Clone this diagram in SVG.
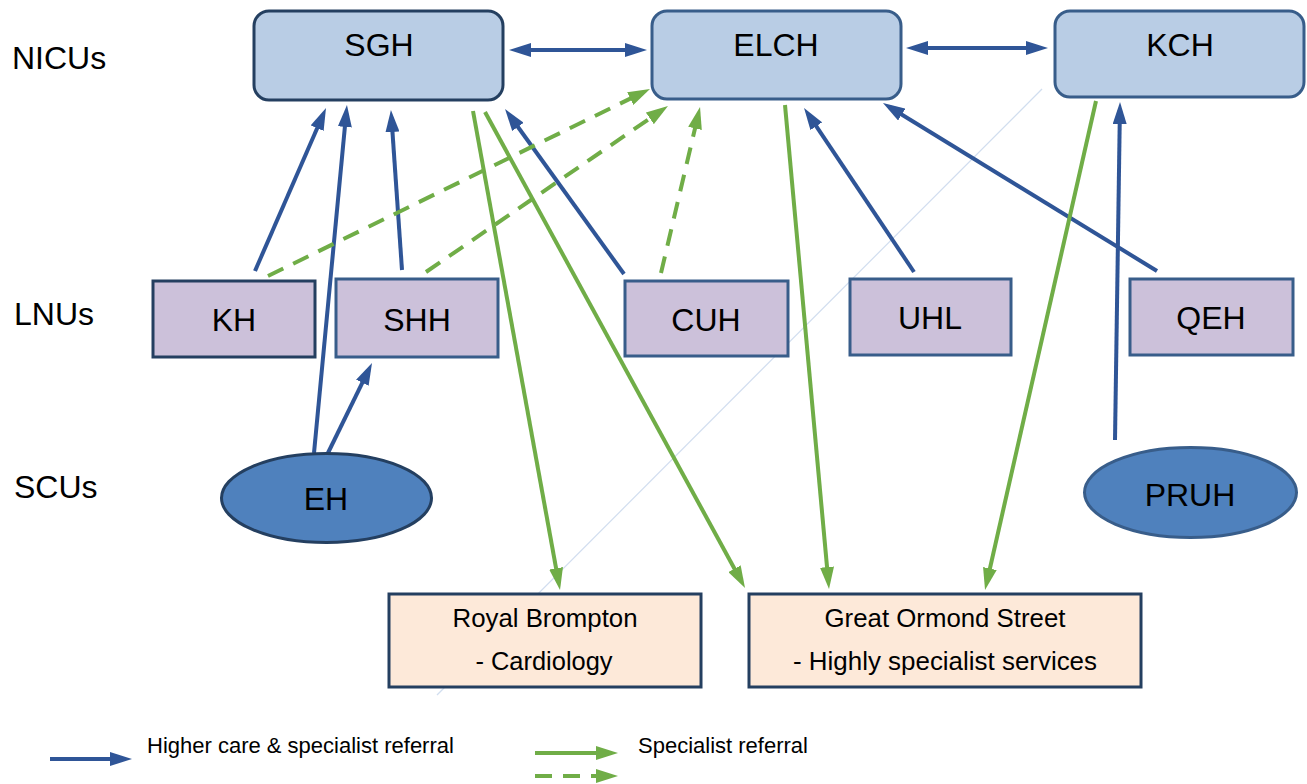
<svg xmlns="http://www.w3.org/2000/svg" width="1307" height="784" viewBox="0 0 1307 784">
<defs>
<style>
text{font-family:"Liberation Sans",Arial,sans-serif;fill:#000}
.lbl{font-size:32px}
.node{font-size:32px;text-anchor:middle}
.spec{font-size:25px;text-anchor:middle}
.leg{font-size:22px}
.nicu{fill:#b9cde5;stroke:#385d8a;stroke-width:3}
.lnu{fill:#ccc1da;stroke:#385d8a;stroke-width:3}
.scu{fill:#4f81bd;stroke:#385d8a;stroke-width:3}
.sp{fill:#fde9d9;stroke:#243f60;stroke-width:3}
.dark{stroke:#243f60}
.b{stroke:#2f5597;stroke-width:4;fill:none;marker-end:url(#hb)}
.g{stroke:#70ad47;stroke-width:4;fill:none;marker-end:url(#hg)}
.gd{stroke:#70ad47;stroke-width:4;fill:none;stroke-dasharray:17 11;marker-end:url(#hg)}
</style>
<marker id="hb" markerUnits="userSpaceOnUse" markerWidth="22" markerHeight="14" refX="14" refY="7" orient="auto-start-reverse"><path d="M0,0 L22,7 L0,14 z" fill="#2f5597"/></marker>
<marker id="hg" markerUnits="userSpaceOnUse" markerWidth="22" markerHeight="14" refX="14" refY="7" orient="auto"><path d="M0,0 L22,7 L0,14 z" fill="#70ad47"/></marker>
</defs>
<rect width="1307" height="784" fill="#fff"/>
<line x1="1042" y1="89" x2="437" y2="695" stroke="#c6d6ec" stroke-width="1.2" opacity="0.8"/>

<g id="labels">
<text class="lbl" x="12" y="69">NICUs</text>
<text class="lbl" x="14" y="325">LNUs</text>
<text class="lbl" x="14" y="498">SCUs</text>
</g>

<g id="connectors">
<line class="b" x1="517" y1="50" x2="639" y2="50" marker-start="url(#hb)"/>
<line class="b" x1="914" y1="48" x2="1040" y2="48" marker-start="url(#hb)"/>
<line class="b" x1="255" y1="271" x2="322.8" y2="115.3"/>
<line class="b" x1="314" y1="453" x2="346.2" y2="113"/>
<line class="b" x1="402" y1="270" x2="391.5" y2="118"/>
<line class="b" x1="326" y1="457" x2="368.5" y2="370.2"/>
<line class="b" x1="624" y1="274" x2="509.7" y2="115.5"/>
<line class="b" x1="914" y1="272" x2="808.5" y2="114.6"/>
<line class="b" x1="1157" y1="271" x2="889.8" y2="107.2"/>
<line class="b" x1="1115" y1="440" x2="1119.9" y2="110"/>
<line class="g" x1="473" y1="111" x2="558.6" y2="582.1"/>
<line class="g" x1="485" y1="112" x2="741.2" y2="581"/>
<line class="g" x1="785" y1="105" x2="828.3" y2="581"/>
<line class="g" x1="1096" y1="101" x2="986.8" y2="582.2"/>
<line class="gd" x1="268" y1="276" x2="642.8" y2="92.5"/>
<line class="gd" x1="426" y1="272" x2="661.4" y2="110.5"/>
<line class="gd" x1="661" y1="273" x2="698.2" y2="114.8"/>
</g>

<g id="SGH"><rect class="nicu dark" x="254" y="11" width="249" height="89" rx="15"/><text class="node" x="379" y="56">SGH</text></g>
<g id="ELCH"><rect class="nicu" x="652" y="11" width="249" height="88" rx="15"/><text class="node" x="776" y="56">ELCH</text></g>
<g id="KCH"><rect class="nicu" x="1055" y="11" width="249" height="86" rx="15"/><text class="node" x="1180" y="56">KCH</text></g>

<g id="KH"><rect class="lnu dark" x="153" y="281" width="162" height="76"/><text class="node" x="234" y="331">KH</text></g>
<g id="SHH"><rect class="lnu" x="336" y="279" width="162" height="78"/><text class="node" x="417" y="331">SHH</text></g>
<g id="CUH"><rect class="lnu" x="625" y="281" width="163" height="75"/><text class="node" x="706" y="331">CUH</text></g>
<g id="UHL"><rect class="lnu" x="850" y="279" width="161" height="76"/><text class="node" x="930" y="329">UHL</text></g>
<g id="QEH"><rect class="lnu" x="1130" y="279" width="163" height="76"/><text class="node" x="1211" y="329">QEH</text></g>

<g id="EH"><ellipse class="scu dark" cx="326.5" cy="498" rx="105" ry="44.5"/><text class="node" x="326" y="510">EH</text></g>
<g id="PRUH"><ellipse class="scu" cx="1190.5" cy="492.5" rx="106" ry="45"/><text class="node" x="1190" y="506">PRUH</text></g>

<g id="RoyalBrompton"><rect class="sp" x="389" y="594" width="312" height="93"/><text class="spec" x="545" y="627" textLength="185" lengthAdjust="spacingAndGlyphs">Royal Brompton</text><text class="spec" x="544" y="670" textLength="137" lengthAdjust="spacingAndGlyphs">- Cardiology</text></g>
<g id="GreatOrmondStreet"><rect class="sp" x="749" y="594" width="392" height="93"/><text class="spec" x="945" y="627" textLength="241" lengthAdjust="spacingAndGlyphs">Great Ormond Street</text><text class="spec" x="945" y="670" textLength="304" lengthAdjust="spacingAndGlyphs">- Highly specialist services</text></g>

<g id="legend">
<line class="b" x1="50" y1="759" x2="124" y2="759"/>
<text class="leg" x="147" y="753">Higher care &amp; specialist referral</text>
<line class="g" x1="535" y1="753" x2="610" y2="753"/>
<line class="gd" x1="535" y1="776" x2="610" y2="776" stroke-dasharray="19 14"/>
<text class="leg" x="638" y="753">Specialist referral</text>
</g>
</svg>
